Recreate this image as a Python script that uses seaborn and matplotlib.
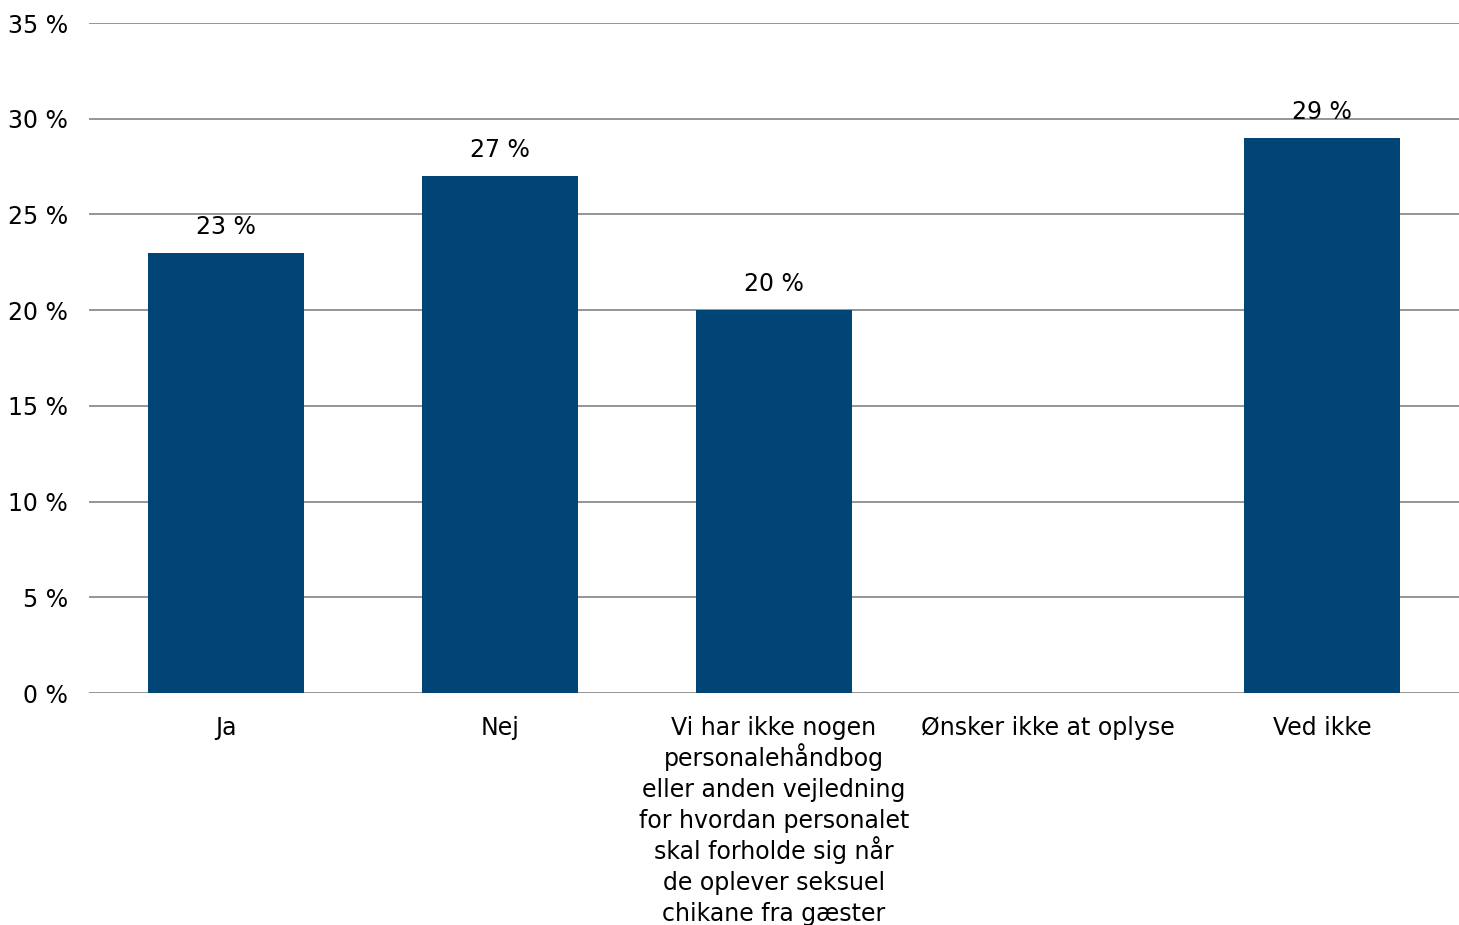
import numpy as np
import pandas as pd
import matplotlib
matplotlib.use('Agg')
import matplotlib.pyplot as plt
import seaborn as sns

# data
categories = ['Ja', 'Nej',
              'Vi har ikke nogen\npersonalehåndbog\neller anden vejledning\nfor hvordan personalet\nskal forholde sig når\nde oplever seksuel\nchikane fra gæster',
              'Ønsker ikke at oplyse', 'Ved ikke']
values = [23, 27, 20, 0, 29]
yticks = [0, 5, 10, 15, 20, 25, 30, 35]

sns.set_style('white')
plt.rcParams['font.family'] = ['DejaVu Sans']
plt.rcParams['text.color'] = 'black'

df = pd.DataFrame({'kategori': categories, 'andel': values})

fig = plt.figure(figsize=(14.59, 9.25), dpi=100)
ax = fig.add_axes([0.061, 0.2508, 0.939, 0.7243])

sns.barplot(data=df, x='kategori', y='andel', color='#004576', saturation=1,
            width=0.57, ax=ax, zorder=3, edgecolor='none', linewidth=0)

ax.set_ylim(0, 35)
ax.set_xlim(-0.5, 4.5)
ax.set_yticks(yticks)
ax.set_yticklabels([f'{t} %' for t in yticks])
ax.yaxis.grid(True, color='#8c8c8c', linewidth=1.3, zorder=0)
ax.set_axisbelow(True)
for s in ax.spines.values():
    s.set_visible(False)
ax.tick_params(axis='both', length=0, labelsize=17, colors='black')
ax.tick_params(axis='y', pad=15)
ax.set_xlabel('')
ax.set_ylabel('')

# category labels: one line at a time so the line spacing stays even
ax.set_xticklabels([''] * len(categories))
for i, cat in zip(ax.get_xticks(), categories):
    for k, line in enumerate(cat.split('\n')):
        ax.annotate(line, xy=(i, 0), xycoords='data',
                    xytext=(0, -30.5 - 22.3 * k), textcoords='offset points',
                    ha='center', va='baseline', fontsize=17, annotation_clip=False)

labels = [f'{v} %' if v > 0 else '' for v in values]
ax.bar_label(ax.containers[0], labels=labels, padding=10, fontsize=17, color='black')

fig.savefig('out.png', dpi=100)
